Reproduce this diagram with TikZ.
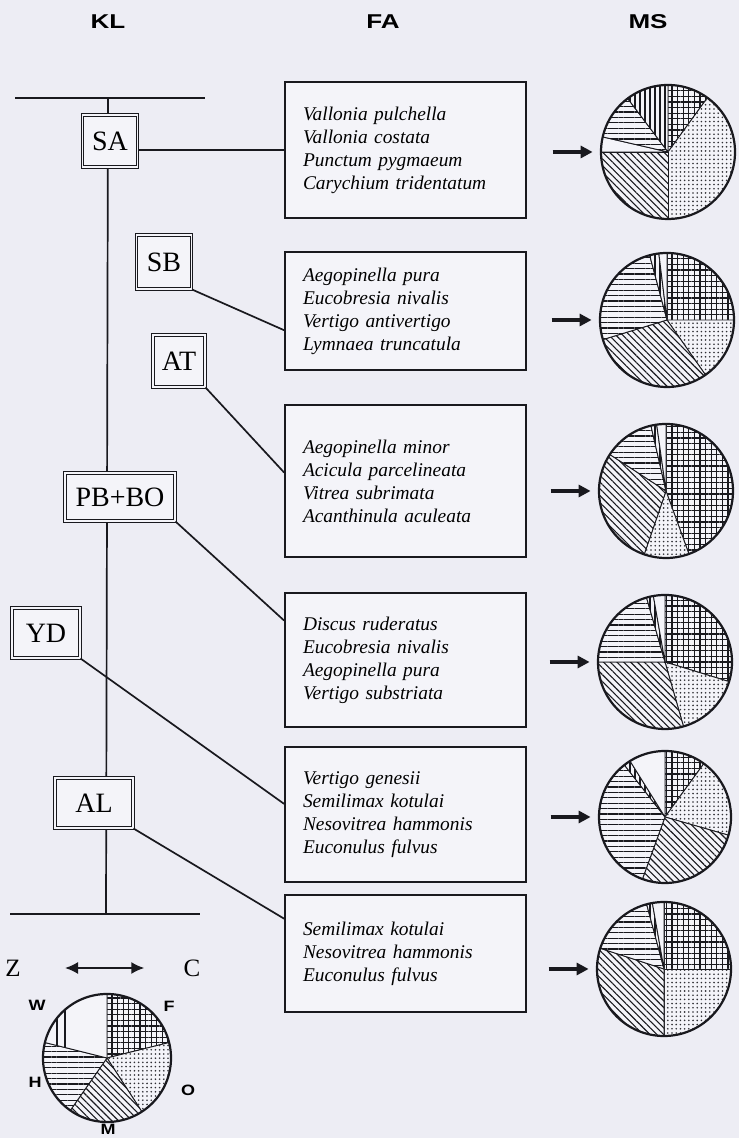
\documentclass[tikz,border=0pt]{standalone}
\usepackage{fontspec}
\setmainfont{Liberation Serif}
\newfontfamily\headfont{Liberation Sans}[FakeStretch=1.3]
\newfontfamily\legfont{Liberation Sans}[FakeStretch=1.2]
\usetikzlibrary{arrows.meta,patterns.meta}
\definecolor{paper}{RGB}{237,237,244}
\definecolor{boxfill}{RGB}{244,244,249}
\definecolor{ink}{RGB}{25,25,30}
\newcommand{\pieslice}[5]{%
  \fill[#5] (#1.center) -- ++(#2:#4) arc[start angle=#2, end angle=#3, radius=#4] -- cycle;
  \draw[ink, line width=0.45pt] (#1.center) -- ++(#2:#4) (#1.center) -- ++(#3:#4);}

\begin{document}
\begin{tikzpicture}[x=0.5pt, y=0.5pt,
    conn/.style={ink, line width=0.85pt},
    headlabel/.style={font=\headfont\bfseries\fontsize{10}{12}\selectfont},
    leglabel/.style={font=\legfont\bfseries\fontsize{7.5}{9}\selectfont},
    labelbox/.style={draw=ink, double=boxfill, double distance=0.8pt, line width=0.5pt,
      fill=boxfill, font=\fontsize{14}{16}\selectfont, minimum height=25pt, inner sep=0pt},
    fabox/.style={draw=ink, line width=0.9pt, fill=boxfill, align=left, text width=102.5pt,
      inner xsep=9pt, inner ysep=0pt, minimum width=120.5pt,
      font=\fontsize{9.7}{11.5}\selectfont\itshape},
    pienode/.style={circle, minimum size=67pt, inner sep=0pt},
    pieedge/.style={ink, line width=1.1pt},
    msarrow/.style={ink, line width=2.2pt, -{Triangle[length=6pt,width=6pt]}},
    fgrid/.style={preaction={fill=boxfill}, pattern={Hatch[angle=0,distance=2.8pt,line width=0.55pt]}, pattern color=ink},
    odots/.style={preaction={fill=boxfill}, pattern={Dots[radius=0.45pt,distance=2.1pt]}, pattern color=ink!90},
    mdiag/.style={preaction={fill=boxfill}, pattern={Lines[angle=-45,distance=2.4pt,line width=0.55pt]}, pattern color=ink},
    hlines/.style={preaction={fill=boxfill}, pattern={Lines[angle=0,distance=2.7pt,line width=0.55pt]}, pattern color=ink},
    vlines/.style={preaction={fill=boxfill}, pattern={Lines[angle=90,distance=2.5pt,line width=0.55pt]}, pattern color=ink},
    wblank/.style={fill=boxfill}]
    \useasboundingbox (0,0) rectangle (739,1138);
    \fill[paper] (0,0) rectangle (739,1138);

    \node[headlabel] (hkl) at (108,1116) {KL};
    \node[headlabel] (hfa) at (383,1116) {FA};
    \node[headlabel] (hms) at (648,1116) {MS};

    \coordinate (topl) at (15,1040);
    \coordinate (topr) at (205,1040);
    \coordinate (trtop) at (108,1040);
    \coordinate (trbot) at (106,224);
    \coordinate (botl) at (10,224);
    \coordinate (botr) at (200,224);
    \draw[conn] (topl) -- (topr);
    \draw[conn] (trtop) -- (trbot);
    \draw[conn] (botl) -- (botr);

    \node[fabox, minimum height=68pt] (fa1) at (405.5,988)
      {Vallonia pulchella\\Vallonia costata\\Punctum pygmaeum\\Carychium tridentatum};
    \node[fabox, minimum height=59pt] (fa2) at (405.5,827)
      {Aegopinella pura\\Eucobresia nivalis\\Vertigo antivertigo\\Lymnaea truncatula};
    \node[fabox, minimum height=76pt] (fa3) at (405.5,657)
      {Aegopinella minor\\Acicula parcelineata\\Vitrea subrimata\\Acanthinula aculeata};
    \node[fabox, minimum height=67pt] (fa4) at (405.5,478)
      {Discus ruderatus\\Eucobresia nivalis\\Aegopinella pura\\Vertigo substriata};
    \node[fabox, minimum height=67.5pt] (fa5) at (405.5,323.5)
      {Vertigo genesii\\Semilimax kotulai\\Nesovitrea hammonis\\Euconulus fulvus};
    \node[fabox, minimum height=58.5pt] (fa6) at (405.5,184.5)
      {Semilimax kotulai\\Nesovitrea hammonis\\Euconulus fulvus};

    \node[labelbox, minimum width=27.5pt, minimum height=26pt] (klsa) at (110,997) {SA};
    \node[labelbox, minimum width=27.5pt, minimum height=27pt] (klsb) at (164,876) {SB};
    \node[labelbox, minimum width=26pt, minimum height=26pt] (klat) at (179,777) {AT};
    \node[labelbox, minimum width=55pt, minimum height=24pt] (klpb) at (120,641) {PB+BO};
    \node[labelbox, minimum width=34pt] (klyd) at (46,505) {YD};
    \node[labelbox, minimum width=39pt] (klal) at (94,335) {AL};

    \draw[conn] (fa1.west) -- (fa1.west -| klsa.east);
    \draw[conn] (klsb.south east) -- (fa2.189);
    \draw[conn] (klat.south east) -- (fa3.176);
    \draw[conn] (klpb.south east) -- (fa4.162);
    \draw[conn] (klyd.south east) -- (fa5.175);
    \draw[conn] (klal.south east) -- (fa6.164);

    \node[pienode] (ms1) at (668,986) {};
    \pieslice{ms1}{90}{54}{67}{fgrid}
    \pieslice{ms1}{54}{-90}{67}{odots}
    \pieslice{ms1}{-90}{-180}{67}{mdiag}
    \pieslice{ms1}{-180}{-193}{67}{wblank}
    \pieslice{ms1}{-193}{-233}{67}{hlines}
    \pieslice{ms1}{-233}{-270}{67}{vlines}
    \draw[pieedge] (ms1.center) circle[radius=67];
    \draw[msarrow] ([xshift=-24pt]ms1.west) -- ([xshift=-4pt]ms1.west);

    \node[pienode] (ms2) at (667,818) {};
    \pieslice{ms2}{90}{0}{67}{fgrid}
    \pieslice{ms2}{0}{-55}{67}{odots}
    \pieslice{ms2}{-55}{-163}{67}{mdiag}
    \pieslice{ms2}{-163}{-255}{67}{hlines}
    \pieslice{ms2}{-255}{-263}{67}{vlines}
    \pieslice{ms2}{-263}{-270}{67}{wblank}
    \draw[pieedge] (ms2.center) circle[radius=67];
    \draw[msarrow] ([xshift=-24pt]ms2.west) -- ([xshift=-4pt]ms2.west);

    \node[pienode] (ms3) at (666,647) {};
    \pieslice{ms3}{90}{-70}{67}{fgrid}
    \pieslice{ms3}{-70}{-109}{67}{odots}
    \pieslice{ms3}{-109}{-213}{67}{mdiag}
    \pieslice{ms3}{-213}{-257}{67}{hlines}
    \pieslice{ms3}{-257}{-262}{67}{vlines}
    \pieslice{ms3}{-262}{-270}{67}{wblank}
    \draw[pieedge] (ms3.center) circle[radius=67];
    \draw[msarrow] ([xshift=-24pt]ms3.west) -- ([xshift=-4pt]ms3.west);

    \node[pienode] (ms4) at (665,476) {};
    \pieslice{ms4}{90}{-17}{67}{fgrid}
    \pieslice{ms4}{-17}{-74}{67}{odots}
    \pieslice{ms4}{-74}{-180}{67}{mdiag}
    \pieslice{ms4}{-180}{-254}{67}{hlines}
    \pieslice{ms4}{-254}{-260}{67}{vlines}
    \pieslice{ms4}{-260}{-270}{67}{wblank}
    \draw[pieedge] (ms4.center) circle[radius=67];
    \draw[msarrow] ([xshift=-24pt]ms4.west) -- ([xshift=-4pt]ms4.west);

    \node[pienode, minimum size=66pt] (ms5) at (665,321) {};
    \pieslice{ms5}{90}{54}{66}{fgrid}
    \pieslice{ms5}{54}{-16}{66}{odots}
    \pieslice{ms5}{-16}{-110}{66}{mdiag}
    \pieslice{ms5}{-110}{-232}{66}{hlines}
    \pieslice{ms5}{-232}{-238}{66}{vlines}
    \pieslice{ms5}{-238}{-270}{66}{wblank}
    \draw[pieedge] (ms5.center) circle[radius=66];
    \draw[msarrow] ([xshift=-24pt]ms5.west) -- ([xshift=-4pt]ms5.west);

    \node[pienode] (ms6) at (664,169) {};
    \pieslice{ms6}{90}{0}{67}{fgrid}
    \pieslice{ms6}{0}{-90}{67}{odots}
    \pieslice{ms6}{-90}{-198}{67}{mdiag}
    \pieslice{ms6}{-198}{-255}{67}{hlines}
    \pieslice{ms6}{-255}{-260}{67}{vlines}
    \pieslice{ms6}{-260}{-270}{67}{wblank}
    \draw[pieedge] (ms6.center) circle[radius=67];
    \draw[msarrow] ([xshift=-24pt]ms6.west) -- ([xshift=-4pt]ms6.west);

    \node[font=\fontsize{12.5}{14}\selectfont, inner sep=0pt] (lz) at (13,170) {Z};
    \node[font=\fontsize{12.5}{14}\selectfont, inner sep=0pt] (lc) at (192,170) {C};
    \draw[ink, line width=0.8pt, {Latex[length=6.5pt,width=6pt]}-{Latex[length=6.5pt,width=6pt]}]
      ([xshift=22pt]lz.east) -- ([xshift=-19.5pt]lc.west);

    \node[pienode, minimum size=64pt] (lg) at (107,80) {};
    \pieslice{lg}{90}{14}{64}{fgrid}
    \pieslice{lg}{14}{-57}{64}{odots}
    \pieslice{lg}{-57}{-125}{64}{mdiag}
    \pieslice{lg}{-125}{-194}{64}{hlines}
    \pieslice{lg}{-194}{-270}{64}{wblank}
    \begin{scope}
      \clip (lg.center) -- ++(166:64) arc[start angle=166, end angle=90, radius=64] -- cycle;
      \draw[ink, line width=0.55pt] (57,0) -- (57,200) (65,0) -- (65,200);
    \end{scope}
    \draw[pieedge] (lg.center) circle[radius=64];
    \node[leglabel] (lw) at (37,133) {W};
    \node[leglabel] (lf) at (169,132) {F};
    \node[leglabel] (lh) at (35,56) {H};
    \node[leglabel] (lo) at (188,48) {O};
    \node[leglabel] (lm) at (108,9) {M};
\end{tikzpicture}
\end{document}
